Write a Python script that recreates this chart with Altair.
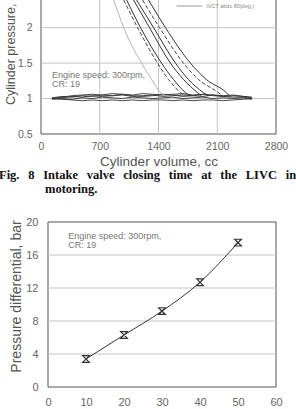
import altair as alt
import pandas as pd

FONT = "Liberation Sans"
SERIF = "Liberation Serif"

# ---------------- upper panel: cylinder pressure vs. cylinder volume ----------------
vol_ticks = [0, 700, 1400, 2100, 2800]
pres_ticks = [0.5, 1, 1.5, 2]
vol_grid = [700, 1400, 2100]
pres_grid = [1, 1.5, 2]

# compression branches (volume in cc, pressure in bar), one per IVC timing
light_vol = [866, 985, 1198, 1317, 1424, 1480]
light_pres = [2.39, 2.0, 1.5, 1.27, 1.085, 1.04]

c1_vol = [985, 1151, 1388, 1519, 1661, 1710]
c1_pres = [2.39, 2.0, 1.5, 1.27, 1.085, 1.04]
c2_vol = [1020, 1186, 1436, 1578, 1720, 1770]
c2_pres = [2.39, 2.0, 1.5, 1.27, 1.085, 1.04]
c3_vol = [1103, 1293, 1542, 1697, 1863, 1910]
c3_pres = [2.39, 2.0, 1.5, 1.27, 1.085, 1.04]
c4_vol = [1139, 1341, 1602, 1756, 1934, 1990]
c4_pres = [2.39, 2.0, 1.5, 1.27, 1.085, 1.04]
c5_vol = [1210, 1412, 1697, 1875, 2112, 2170]
c5_pres = [2.39, 2.0, 1.5, 1.27, 1.085, 1.03]
c6_vol = [1281, 1483, 1780, 1969, 2207, 2260]
c6_pres = [2.39, 2.0, 1.5, 1.27, 1.085, 1.02]

# intake stroke traces near atmospheric pressure
intake_vol = [130, 250, 370, 490, 610, 730, 850, 970, 1090, 1210, 1330,
              1450, 1570, 1690, 1810, 1930, 2050, 2170, 2290, 2410, 2515]
intake_p1 = [1.00, 1.02, 1.04, 1.05, 1.06, 1.05, 1.07, 1.06, 1.05, 1.07, 1.06,
             1.05, 1.06, 1.07, 1.05, 1.06, 1.05, 1.04, 1.05, 1.03, 1.01]
intake_p2 = [1.00, 1.01, 1.03, 1.02, 1.04, 1.03, 1.04, 1.05, 1.03, 1.04, 1.05,
             1.03, 1.04, 1.05, 1.04, 1.03, 1.05, 1.03, 1.02, 1.02, 1.00]
intake_p3 = [0.99, 1.00, 0.99, 1.01, 1.00, 1.02, 1.01, 1.00, 1.02, 1.01, 1.00,
             1.01, 1.02, 1.00, 1.01, 1.02, 1.00, 1.01, 1.00, 1.01, 0.99]
intake_p4 = [1.00, 0.99, 0.98, 0.97, 0.98, 0.97, 0.98, 0.97, 0.98, 0.97, 0.98,
             0.98, 0.97, 0.98, 0.97, 0.98, 0.98, 0.97, 0.98, 0.99, 1.00]
intake_p5 = [1.01, 1.03, 1.02, 1.04, 1.03, 1.05, 1.04, 1.06, 1.04, 1.03, 1.04,
             1.06, 1.05, 1.03, 1.04, 1.06, 1.04, 1.03, 1.04, 1.03, 1.02]

legend_label = "IVCT abdc 80(deg.)"
legend_vol = [1613, 1922]
legend_pres = 2.305
top_note = ["Engine speed: 300rpm,", "CR: 19"]
top_note_vol = 130
top_note_pres = [1.338, 1.211]

# ---------------- lower panel: pressure differential vs. IVC timing ----------------
ivc_timing = [10, 20, 30, 40, 50]
pressure_diff = [3.4, 6.3, 9.2, 12.7, 17.5]
timing_ticks = [0, 10, 20, 30, 40, 50, 60]
diff_ticks = [0, 4, 8, 12, 16, 20]
diff_grid = [4, 8, 12, 16]
bottom_note_t = 5.3
bottom_note_d = [18.3, 17.2]

# justified caption: en space + thin space between words
GAP = "\u2002\u2009"
caption_line1 = GAP.join(["Fig.", "8", "Intake", "valve", "closing", "time", "at", "the", "LIVC", "in"])
caption_line2 = "motoring."

W, H = 296, 409
FRAME = "#555555"
GRID = "#c4c4c4"
INK = "#333333"

# ---------- upper panel scales / axes ----------
top_x_scale = alt.Scale(domain=[0, 2800], range=[41, 276])
top_y_scale = alt.Scale(domain=[0.5, 2.39], range=[134, 0])

top_x_axis = alt.Axis(
    orient="bottom", offset=134 - H, values=vol_ticks, format="d", grid=False, ticks=False,
    domain=False, labelFlush=False, labelOverlap=False, labelPadding=7,
    labelFont=FONT, labelFontSize=10.5, labelColor="#666666",
    title="Cylinder volume, cc", titleFont=FONT, titleFontSize=13.5,
    titleFontWeight="normal", titleColor="#555555", titleY=27, titleBaseline="middle",
)
top_y_axis = alt.Axis(
    orient="left", offset=-41, values=pres_ticks, format=".1~f", grid=False,
    ticks=False, domain=False, labelOverlap=False, labelPadding=9,
    labelFont=FONT, labelFontSize=10.5, labelColor="#666666",
    title="Cylinder pressure, bar", titleFont=FONT, titleFontSize=12.5,
    titleFontWeight="normal", titleColor="#555555", titleX=-31, titleY=43,
    titleBaseline="middle", titleAngle=270,
)

TX = alt.X("v:Q", scale=top_x_scale, axis=top_x_axis)
TY = alt.Y("p:Q", scale=top_y_scale, axis=top_y_axis)
TX2 = alt.X2("v2:Q")
TY2 = alt.Y2("p2:Q")

frame_top = alt.Chart(pd.DataFrame({"v": [0], "v2": [2800], "p": [0.5], "p2": [2.7]})).mark_rect(
    fillOpacity=0, stroke=FRAME, strokeWidth=1
).encode(x=TX, x2=TX2, y=TY, y2=TY2)

vgrid_top = alt.Chart(pd.DataFrame({"v": vol_grid, "p": [0.5] * 3, "p2": [2.7] * 3})).mark_rule(
    color=GRID, strokeWidth=1
).encode(x=TX, y=TY, y2=TY2)

hgrid_top = alt.Chart(pd.DataFrame({"p": pres_grid, "v": [0] * 3, "v2": [2800] * 3})).mark_rule(
    color=GRID, strokeWidth=1
).encode(y=TY, x=TX, x2=TX2)

intake_rows = []
for k, series in enumerate([intake_p1, intake_p2, intake_p3, intake_p4, intake_p5]):
    for v, p in zip(intake_vol, series):
        intake_rows.append({"trace": k, "v": v, "p": p})
intake = alt.Chart(pd.DataFrame(intake_rows)).mark_line(
    color=INK, strokeWidth=0.9
).encode(x=TX, y=TY, detail="trace:N")


def branch_rows(name, vols, press):
    return [{"curve": name, "v": v, "p": p} for v, p in zip(vols, press)]


light_df = pd.DataFrame(branch_rows("light", light_vol, light_pres))
solid_df = pd.DataFrame(
    branch_rows("c2", c2_vol, c2_pres) + branch_rows("c3", c3_vol, c3_pres)
    + branch_rows("c4", c4_vol, c4_pres) + branch_rows("c6", c6_vol, c6_pres)
)
dashed_df = pd.DataFrame(branch_rows("c1", c1_vol, c1_pres) + branch_rows("c5", c5_vol, c5_pres))

light_line = alt.Chart(light_df).mark_line(
    color="#b5b5b5", strokeWidth=1, interpolate="monotone"
).encode(x=TX, y=TY, detail="curve:N")
solid_lines = alt.Chart(solid_df).mark_line(
    color=INK, strokeWidth=1, interpolate="monotone"
).encode(x=TX, y=TY, detail="curve:N")
dashed_lines = alt.Chart(dashed_df).mark_line(
    color="#444444", strokeWidth=1, strokeDash=[4, 2], interpolate="monotone"
).encode(x=TX, y=TY, detail="curve:N")

legend_line = alt.Chart(pd.DataFrame({"v": [legend_vol[0]], "v2": [legend_vol[1]], "p": [legend_pres]})).mark_rule(
    color="#9a9a9a", strokeWidth=1
).encode(x=TX, x2=TX2, y=TY)
legend_text = alt.Chart(pd.DataFrame({"v": [legend_vol[1] + 47], "p": [legend_pres], "t": [legend_label]})).mark_text(
    align="left", baseline="middle", font=FONT, fontSize=5.5, color="#888888"
).encode(x=TX, y=TY, text="t:N")

top_note_layer = alt.Chart(pd.DataFrame({"v": [top_note_vol] * 2, "p": top_note_pres, "t": top_note})).mark_text(
    align="left", baseline="middle", font=FONT, fontSize=9, color="#777777"
).encode(x=TX, y=TY, text="t:N")

top_panel = alt.layer(
    frame_top, vgrid_top, hgrid_top, intake, light_line, solid_lines, dashed_lines,
    legend_line, legend_text, top_note_layer,
)

# ---------- lower panel scales / axes ----------
bot_x_scale = alt.Scale(domain=[0, 60], range=[48, 276])
bot_y_scale = alt.Scale(domain=[0, 20], range=[387, 222])

bot_x_axis = alt.Axis(
    orient="bottom", offset=387 - H, values=timing_ticks, grid=False, ticks=False,
    domain=False, labelFlush=False, labelOverlap=False, labelPadding=9,
    labelFont=FONT, labelFontSize=11, labelColor="#666666", title=None,
)
bot_y_axis = alt.Axis(
    orient="left", offset=-48, values=diff_ticks, grid=False, ticks=False,
    domain=False, labelOverlap=False, labelPadding=10,
    labelFont=FONT, labelFontSize=11, labelColor="#666666",
    title="Pressure differential, bar", titleFont=FONT, titleFontSize=14,
    titleFontWeight="normal", titleColor="#555555", titleX=-32, titleY=296,
    titleBaseline="middle", titleAngle=270,
)

BX = alt.X("t:Q", scale=bot_x_scale, axis=bot_x_axis)
BY = alt.Y("d:Q", scale=bot_y_scale, axis=bot_y_axis)
BX2 = alt.X2("t2:Q")
BY2 = alt.Y2("d2:Q")

frame_bot = alt.Chart(pd.DataFrame({"t": [0], "t2": [60], "d": [0], "d2": [20]})).mark_rect(
    fillOpacity=0, stroke=FRAME, strokeWidth=1
).encode(x=BX, x2=BX2, y=BY, y2=BY2)

hgrid_bot = alt.Chart(pd.DataFrame({"d": diff_grid, "t": [0] * 4, "t2": [60] * 4})).mark_rule(
    color=GRID, strokeWidth=1
).encode(y=BY, x=BX, x2=BX2)

diff_df = pd.DataFrame({"t": ivc_timing, "d": pressure_diff})
diff_line = alt.Chart(diff_df).mark_line(
    color=INK, strokeWidth=1, interpolate="monotone"
).encode(x=BX, y=BY)
diff_points = alt.Chart(diff_df).mark_point(
    shape="M-1,-1L1,-1L-1,1L1,1Z", size=45, filled=False, stroke=INK, strokeWidth=1.2, opacity=1
).encode(x=BX, y=BY)

bot_note_layer = alt.Chart(pd.DataFrame({"t": [bottom_note_t] * 2, "d": bottom_note_d, "s": top_note})).mark_text(
    align="left", baseline="middle", font=FONT, fontSize=9, color="#777777"
).encode(x=BX, y=BY, text="s:N")

bottom_panel = alt.layer(frame_bot, hgrid_bot, diff_line, diff_points, bot_note_layer)

# ---------- figure caption ----------
cap_df = pd.DataFrame({"k": [0]})
cap1 = alt.Chart(cap_df).mark_text(
    align="left", baseline="middle", font=SERIF, fontSize=12.5, fontWeight="bold",
    color="#111111", text=caption_line1
).encode(x=alt.value(-1), y=alt.value(175))
cap2 = alt.Chart(cap_df).mark_text(
    align="left", baseline="middle", font=SERIF, fontSize=12.5, fontWeight="bold",
    color="#111111", text=caption_line2
).encode(x=alt.value(45), y=alt.value(189))

chart = (
    alt.layer(top_panel, bottom_panel, cap1, cap2)
    .resolve_scale(x="independent", y="independent")
    .resolve_axis(x="independent", y="independent")
    .properties(width=W, height=H, padding=0, autosize=alt.AutoSizeParams(type="none"),
                background="white")
    .configure_view(stroke=None)
)

chart.save("out.html", embed_options={"renderer": "svg", "actions": False})
